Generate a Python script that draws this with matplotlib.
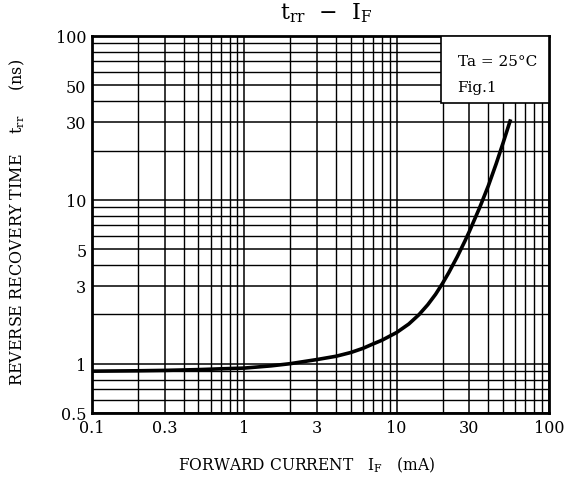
import matplotlib
matplotlib.use("Agg")
import matplotlib.pyplot as plt
from matplotlib.patches import Rectangle
from matplotlib.ticker import FixedLocator, NullFormatter, LogLocator

plt.rcParams["font.family"] = "DejaVu Serif"
plt.rcParams["mathtext.fontset"] = "dejavuserif"

# forward current IF (mA) vs reverse recovery time trr (ns)
if_ma = [0.1, 0.2, 0.3, 0.5, 0.7, 1, 1.5, 2, 3, 4, 5, 6, 7, 8, 10, 12, 14, 16, 18,
         20, 22, 25, 28, 30, 35, 40, 45, 50, 56]
trr_ns = [0.90, 0.905, 0.91, 0.92, 0.93, 0.94, 0.97, 1.0, 1.06, 1.11, 1.17, 1.24, 1.32, 1.39, 1.55,
          1.745, 1.99, 2.29, 2.65, 3.09, 3.60, 4.50, 5.58, 6.41, 8.93, 12.2, 16.6, 22.3, 31.0]

x_ticks = [0.1, 0.3, 1, 3, 10, 30, 100]
x_labels = ["0.1", "0.3", "1", "3", "10", "30", "100"]
y_ticks = [0.5, 1, 3, 5, 10, 30, 50, 100]
y_labels = ["0.5", "1", "3", "5", "10", "30", "50", "100"]

fig = plt.figure(figsize=(5.73, 4.81), dpi=100)
ax = fig.add_axes([0.1606, 0.1393, 0.7975, 0.7838])
ax.set_xscale("log"); ax.set_yscale("log")
ax.set_xlim(0.1, 100); ax.set_ylim(0.5, 100)

ax.xaxis.set_major_locator(FixedLocator(x_ticks))
ax.yaxis.set_major_locator(FixedLocator(y_ticks))
ax.set_xticklabels(x_labels); ax.set_yticklabels(y_labels)
ax.xaxis.set_minor_locator(LogLocator(base=10, subs=range(1, 10)))
ax.yaxis.set_minor_locator(LogLocator(base=10, subs=range(1, 10)))
ax.xaxis.set_minor_formatter(NullFormatter())
ax.yaxis.set_minor_formatter(NullFormatter())
ax.tick_params(which="both", length=0, labelsize=11.5, pad=4)

ax.grid(which="minor", color="black", linewidth=1.0)
ax.grid(which="major", color="black", linewidth=1.1)
for s in ax.spines.values():
    s.set_linewidth(2.0)

ax.plot(if_ma, trr_ns, color="black", linewidth=2.6, zorder=5,
        solid_capstyle="butt", solid_joinstyle="round")

# condition box, top right
ax.add_patch(Rectangle((0.7636, 0.8228), 0.2364, 0.1772, transform=ax.transAxes,
                       facecolor="white", edgecolor="black", linewidth=1.2, zorder=6))
ax.text(0.80, 0.934, "Ta = 25°C", transform=ax.transAxes, fontsize=11, va="center", zorder=7)
ax.text(0.80, 0.865, "Fig.1", transform=ax.transAxes, fontsize=11, va="center", zorder=7)

fig.text(0.569, 0.972, r"$\mathrm{t_{rr}}$  −  $\mathrm{I_F}$", ha="center", va="center", fontsize=16)
fig.text(0.536, 0.033, r"FORWARD CURRENT   $\mathrm{I_F}$   (mA)", ha="center", va="center",
         fontsize=11.2)
fig.text(0.031, 0.538, r"REVERSE RECOVERY TIME    $\mathrm{t_{rr}}$     (ns)", ha="center",
         va="center", rotation=90, fontsize=11.5)

fig.savefig("out.png", dpi=100, facecolor="white")
